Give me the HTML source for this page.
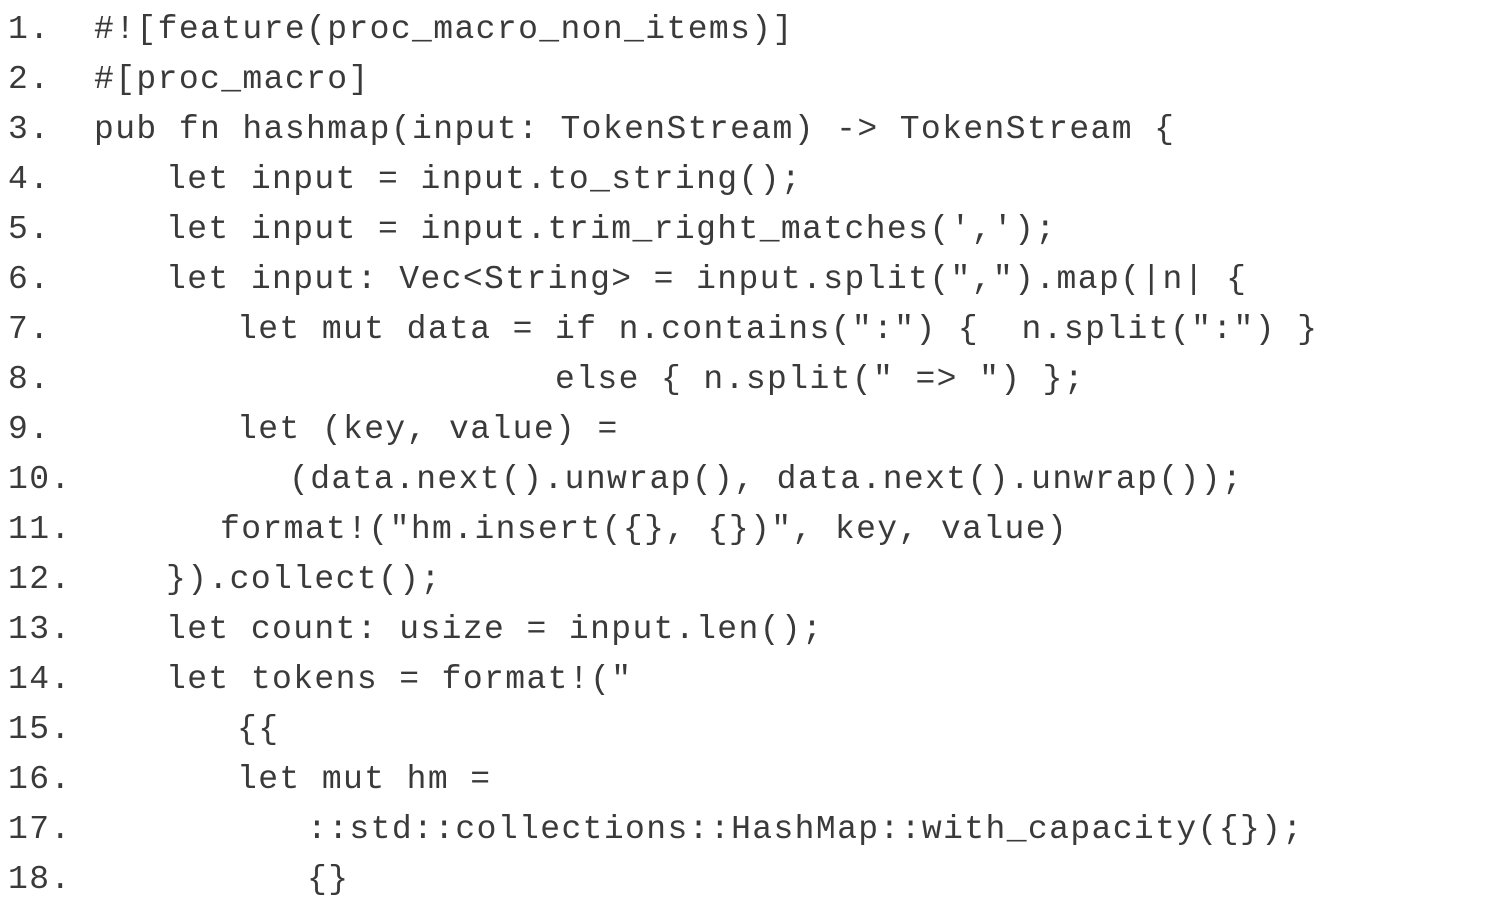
<!DOCTYPE html>
<html>
<head>
<meta charset="utf-8">
<style>
  html, body { margin: 0; padding: 0; background: #ffffff; }
  body { width: 1490px; height: 901px; overflow: hidden; }
  svg { display: block; }
  text {
    font-family: "Liberation Mono", "Courier New", monospace;
    font-size: 33px;
    letter-spacing: 1.4px;
    fill: #3a3a3a;
    white-space: pre;
  }
</style>
</head>
<body>
<svg width="1490" height="901" viewBox="0 0 1490 901" xmlns="http://www.w3.org/2000/svg" xml:space="preserve">
  <rect x="0" y="0" width="1490" height="901" fill="#ffffff"/>
  <!-- line numbers -->
  <text x="8" y="38">1.</text>
  <text x="8" y="88">2.</text>
  <text x="8" y="138">3.</text>
  <text x="8" y="188">4.</text>
  <text x="8" y="238">5.</text>
  <text x="8" y="288">6.</text>
  <text x="8" y="338">7.</text>
  <text x="8" y="388">8.</text>
  <text x="8" y="438">9.</text>
  <text x="8" y="488">10.</text>
  <text x="8" y="538">11.</text>
  <text x="8" y="588">12.</text>
  <text x="8" y="638">13.</text>
  <text x="8" y="688">14.</text>
  <text x="8" y="738">15.</text>
  <text x="8" y="788">16.</text>
  <text x="8" y="838">17.</text>
  <text x="8" y="888">18.</text>

  <!-- code -->
  <text x="94" y="38">#![feature(proc_macro_non_items)]</text>
  <text x="94" y="88">#[proc_macro]</text>
  <text x="94" y="138">pub fn hashmap(input: TokenStream) -&gt; TokenStream {</text>
  <text x="166" y="188">let input = input.to_string();</text>
  <text x="166" y="238">let input = input.trim_right_matches(',');</text>
  <text x="166" y="288">let input: Vec&lt;String&gt; = input.split(",").map(|n| {</text>
  <text x="237" y="338">let mut data = if n.contains(":") {  n.split(":") }</text>
  <text x="555" y="388">else { n.split(" =&gt; ") };</text>
  <text x="237" y="438">let (key, value) =</text>
  <text x="289" y="488">(data.next().unwrap(), data.next().unwrap());</text>
  <text x="220" y="538">format!("hm.insert({}, {})", key, value)</text>
  <text x="166" y="588">}).collect();</text>
  <text x="166" y="638">let count: usize = input.len();</text>
  <text x="166" y="688">let tokens = format!("</text>
  <text x="237" y="738">{{</text>
  <text x="237" y="788">let mut hm =</text>
  <text x="307" y="838">::std::collections::HashMap::with_capacity({});</text>
  <text x="307" y="888">{}</text>
</svg>
</body>
</html>
